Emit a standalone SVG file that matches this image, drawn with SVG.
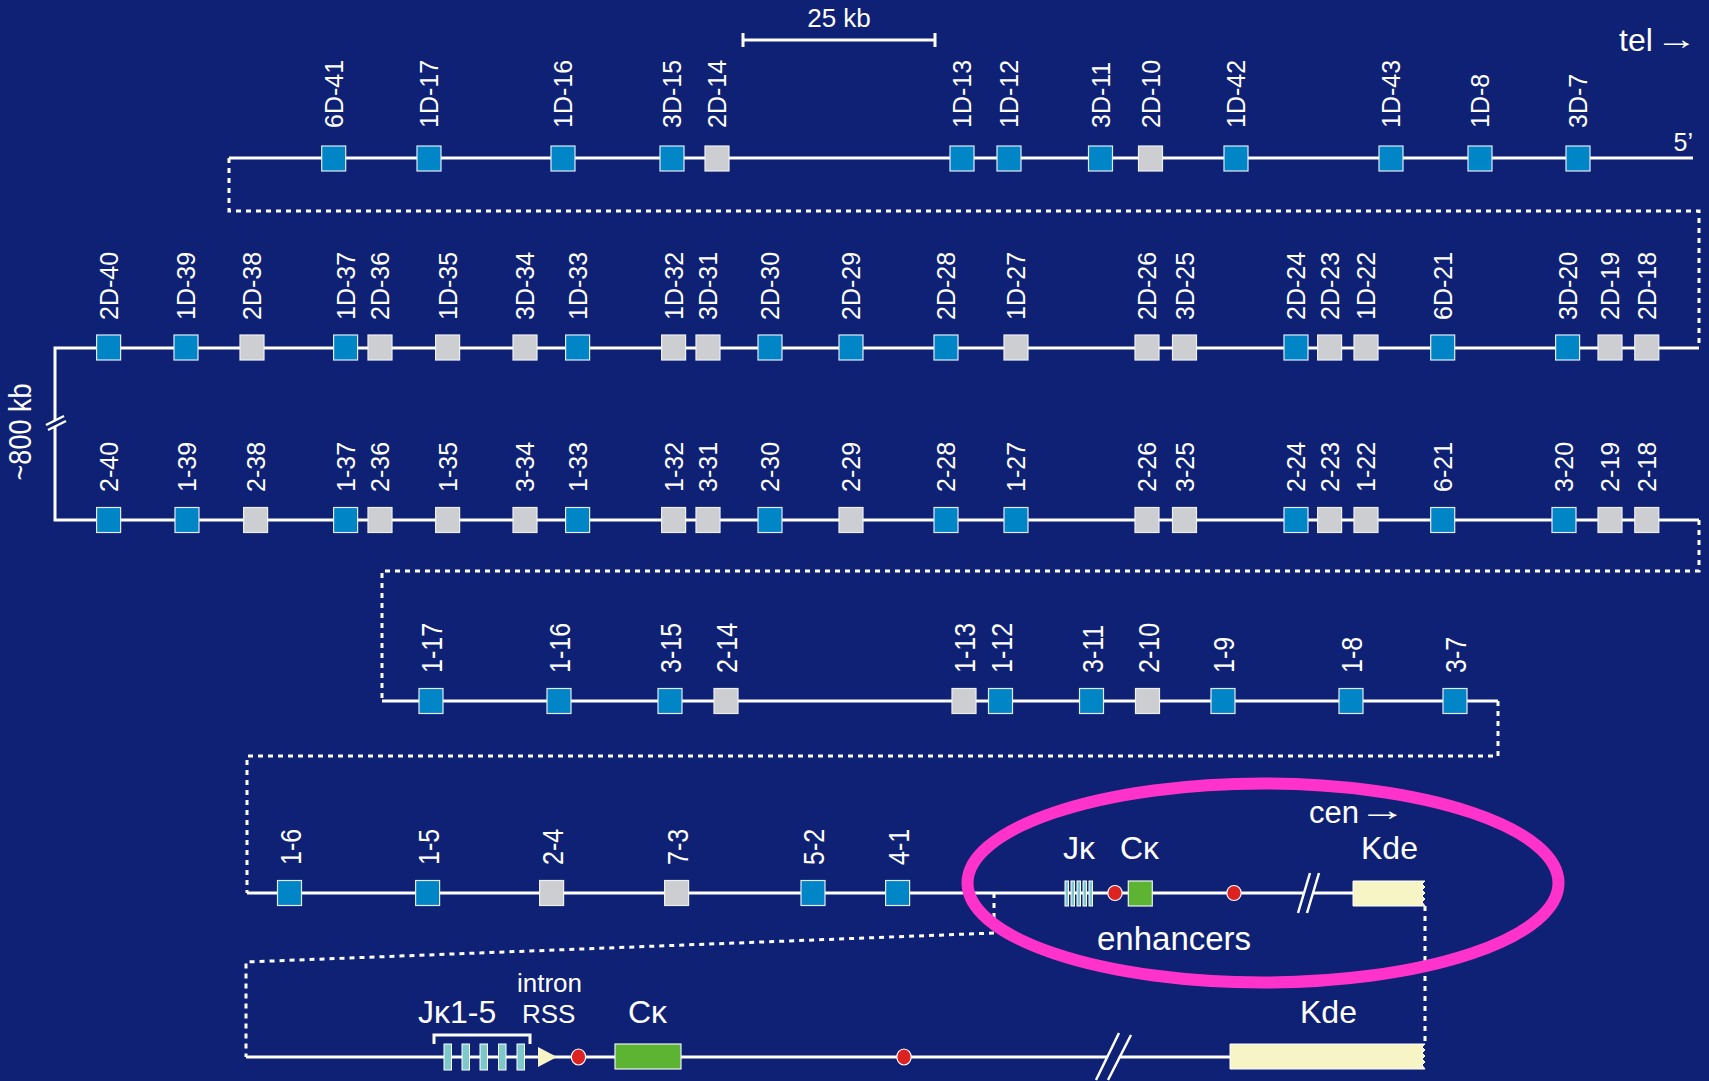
<svg xmlns="http://www.w3.org/2000/svg" width="1709" height="1081" viewBox="0 0 1709 1081">
<style>
.bg{fill:#0E2174}
.b{fill:#0085C7;stroke:#e3eaf3;stroke-width:1.2}
.g{fill:#CDCED2;stroke:#eef0f3;stroke-width:1.2}
.ln{stroke:#fff;stroke-width:3;fill:none}
.dl{stroke:#fff;stroke-width:3;fill:none;stroke-dasharray:5 5}
.brk{stroke:#fff;stroke-width:2.5;fill:none}
.t{font-family:"Liberation Sans",Arial,sans-serif;fill:#fff}
.lb{font-size:25px}
.big{font-size:32px}
.red{fill:#DD2222;stroke:#fff;stroke-width:1.2}
.grn{fill:#5DB332;stroke:#eef0f3;stroke-width:1.2}
.kde{fill:#F7F4C6;stroke:#fff;stroke-width:1}
.jb{fill:#7CC8CA;stroke:#fff;stroke-width:1}
</style>
<rect class="bg" x="0" y="0" width="1709" height="1081"/>

<g id="connectors">
  <path class="ln" d="M229 158 H1693"/>
  <path class="dl" d="M229 158 V211 H1699 V348"/>
  <path class="ln" d="M1699 348 H55 V520 H1699"/>
  <path class="dl" d="M1699 520 V571 H382 V701"/>
  <path class="ln" d="M382 701 H1498"/>
  <path class="dl" d="M1498 701 V756 H247 V893"/>
  <path class="ln" d="M247 893 H1353"/>
  <path class="dl" d="M994 893 V933 L246 962 V1057"/>
  <path class="dl" d="M1425 906 V1044"/>
  <path class="ln" d="M246 1057 H1230"/>
  <polygon class="bg" points="46,426 64,417 66,421 48,430"/>
  <path class="brk" d="M46 425 L64 416 M48 430 L66 421"/>
  <polygon class="bg" points="1309,874 1318,874 1307,912 1298,912"/>
  <path class="brk" d="M1310 873 L1298 913 M1319 873 L1307 913"/>
  <polygon class="bg" points="1119,1034 1130,1034 1107,1080 1096,1080"/>
  <path class="brk" d="M1119 1033 L1096 1080 M1131 1035 L1108 1080"/>
</g>

<g id="scale-bar">
  <path class="ln" d="M743 40 H935 M743 33 V47 M935 33 V47" stroke-width="2.5"/>
  <text class="t" x="839" y="27" font-size="26" text-anchor="middle">25 kb</text>
</g>
<g id="tel">
  <text class="t" x="1619" y="51" font-size="32">tel</text>
  <text class="t" font-size="30" transform="translate(1655.5,49) scale(1.4,1)">→</text>
</g>
<text id="five-prime" class="t" x="1693" y="151" font-size="25" text-anchor="end">5’</text>
<text id="kb800" class="t" font-size="27" text-anchor="middle" transform="translate(31,432) rotate(-90) scale(1,1.15)">~800 kb</text>

<!-- Row 1 -->
<g id="r1-6D-41"><rect class="b" x="321.7" y="146" width="24" height="25"/><text class="t lb" transform="translate(342.7,128) rotate(-90)">6D-41</text></g>
<g id="r1-1D-17"><rect class="b" x="417" y="146" width="24" height="25"/><text class="t lb" transform="translate(438,128) rotate(-90)">1D-17</text></g>
<g id="r1-1D-16"><rect class="b" x="551" y="146" width="24" height="25"/><text class="t lb" transform="translate(572,128) rotate(-90)">1D-16</text></g>
<g id="r1-3D-15"><rect class="b" x="660" y="146" width="24" height="25"/><text class="t lb" transform="translate(681,128) rotate(-90)">3D-15</text></g>
<g id="r1-2D-14"><rect class="g" x="705" y="146" width="24" height="25"/><text class="t lb" transform="translate(726,128) rotate(-90)">2D-14</text></g>
<g id="r1-1D-13"><rect class="b" x="950" y="146" width="24" height="25"/><text class="t lb" transform="translate(971,128) rotate(-90)">1D-13</text></g>
<g id="r1-1D-12"><rect class="b" x="997" y="146" width="24" height="25"/><text class="t lb" transform="translate(1018,128) rotate(-90)">1D-12</text></g>
<g id="r1-3D-11"><rect class="b" x="1088.5" y="146" width="24" height="25"/><text class="t lb" transform="translate(1109.5,128) rotate(-90)">3D-11</text></g>
<g id="r1-2D-10"><rect class="g" x="1138.5" y="146" width="24" height="25"/><text class="t lb" transform="translate(1159.5,128) rotate(-90)">2D-10</text></g>
<g id="r1-1D-42"><rect class="b" x="1224" y="146" width="24" height="25"/><text class="t lb" transform="translate(1245,128) rotate(-90)">1D-42</text></g>
<g id="r1-1D-43"><rect class="b" x="1379" y="146" width="24" height="25"/><text class="t lb" transform="translate(1400,128) rotate(-90)">1D-43</text></g>
<g id="r1-1D-8"><rect class="b" x="1468" y="146" width="24" height="25"/><text class="t lb" transform="translate(1489,128) rotate(-90)">1D-8</text></g>
<g id="r1-3D-7"><rect class="b" x="1566" y="146" width="24" height="25"/><text class="t lb" transform="translate(1587,128) rotate(-90)">3D-7</text></g>

<!-- Row 2 -->
<g id="r2-2D-40"><rect class="b" x="96.6" y="335" width="24" height="25"/><text class="t lb" transform="translate(117.6,320) rotate(-90)">2D-40</text></g>
<g id="r2-1D-39"><rect class="b" x="174" y="335" width="24" height="25"/><text class="t lb" transform="translate(195,320) rotate(-90)">1D-39</text></g>
<g id="r2-2D-38"><rect class="g" x="240" y="335" width="24" height="25"/><text class="t lb" transform="translate(261,320) rotate(-90)">2D-38</text></g>
<g id="r2-1D-37"><rect class="b" x="333.6" y="335" width="24" height="25"/><text class="t lb" transform="translate(354.6,320) rotate(-90)">1D-37</text></g>
<g id="r2-2D-36"><rect class="g" x="368" y="335" width="24" height="25"/><text class="t lb" transform="translate(389,320) rotate(-90)">2D-36</text></g>
<g id="r2-1D-35"><rect class="g" x="435.6" y="335" width="24" height="25"/><text class="t lb" transform="translate(456.6,320) rotate(-90)">1D-35</text></g>
<g id="r2-3D-34"><rect class="g" x="513" y="335" width="24" height="25"/><text class="t lb" transform="translate(534,320) rotate(-90)">3D-34</text></g>
<g id="r2-1D-33"><rect class="b" x="565.6" y="335" width="24" height="25"/><text class="t lb" transform="translate(586.6,320) rotate(-90)">1D-33</text></g>
<g id="r2-1D-32"><rect class="g" x="661.6" y="335" width="24" height="25"/><text class="t lb" transform="translate(682.6,320) rotate(-90)">1D-32</text></g>
<g id="r2-3D-31"><rect class="g" x="696" y="335" width="24" height="25"/><text class="t lb" transform="translate(717,320) rotate(-90)">3D-31</text></g>
<g id="r2-2D-30"><rect class="b" x="758" y="335" width="24" height="25"/><text class="t lb" transform="translate(779,320) rotate(-90)">2D-30</text></g>
<g id="r2-2D-29"><rect class="b" x="839" y="335" width="24" height="25"/><text class="t lb" transform="translate(860,320) rotate(-90)">2D-29</text></g>
<g id="r2-2D-28"><rect class="b" x="934" y="335" width="24" height="25"/><text class="t lb" transform="translate(955,320) rotate(-90)">2D-28</text></g>
<g id="r2-1D-27"><rect class="g" x="1004" y="335" width="24" height="25"/><text class="t lb" transform="translate(1025,320) rotate(-90)">1D-27</text></g>
<g id="r2-2D-26"><rect class="g" x="1135" y="335" width="24" height="25"/><text class="t lb" transform="translate(1156,320) rotate(-90)">2D-26</text></g>
<g id="r2-3D-25"><rect class="g" x="1172.5" y="335" width="24" height="25"/><text class="t lb" transform="translate(1193.5,320) rotate(-90)">3D-25</text></g>
<g id="r2-2D-24"><rect class="b" x="1284" y="335" width="24" height="25"/><text class="t lb" transform="translate(1305,320) rotate(-90)">2D-24</text></g>
<g id="r2-2D-23"><rect class="g" x="1317.6" y="335" width="24" height="25"/><text class="t lb" transform="translate(1338.6,320) rotate(-90)">2D-23</text></g>
<g id="r2-1D-22"><rect class="g" x="1354" y="335" width="24" height="25"/><text class="t lb" transform="translate(1375,320) rotate(-90)">1D-22</text></g>
<g id="r2-6D-21"><rect class="b" x="1430.7" y="335" width="24" height="25"/><text class="t lb" transform="translate(1451.7,320) rotate(-90)">6D-21</text></g>
<g id="r2-3D-20"><rect class="b" x="1555.6" y="335" width="24" height="25"/><text class="t lb" transform="translate(1576.6,320) rotate(-90)">3D-20</text></g>
<g id="r2-2D-19"><rect class="g" x="1598" y="335" width="24" height="25"/><text class="t lb" transform="translate(1619,320) rotate(-90)">2D-19</text></g>
<g id="r2-2D-18"><rect class="g" x="1634.8" y="335" width="24" height="25"/><text class="t lb" transform="translate(1655.8,320) rotate(-90)">2D-18</text></g>

<!-- Row 3 -->
<g id="r3-2-40"><rect class="b" x="96.6" y="507.5" width="24" height="25"/><text class="t lb" transform="translate(117.6,492) rotate(-90)">2-40</text></g>
<g id="r3-1-39"><rect class="b" x="175" y="507.5" width="24" height="25"/><text class="t lb" transform="translate(196,492) rotate(-90)">1-39</text></g>
<g id="r3-2-38"><rect class="g" x="243.6" y="507.5" width="24" height="25"/><text class="t lb" transform="translate(264.6,492) rotate(-90)">2-38</text></g>
<g id="r3-1-37"><rect class="b" x="333.6" y="507.5" width="24" height="25"/><text class="t lb" transform="translate(354.6,492) rotate(-90)">1-37</text></g>
<g id="r3-2-36"><rect class="g" x="368" y="507.5" width="24" height="25"/><text class="t lb" transform="translate(389,492) rotate(-90)">2-36</text></g>
<g id="r3-1-35"><rect class="g" x="435.6" y="507.5" width="24" height="25"/><text class="t lb" transform="translate(456.6,492) rotate(-90)">1-35</text></g>
<g id="r3-3-34"><rect class="g" x="513" y="507.5" width="24" height="25"/><text class="t lb" transform="translate(534,492) rotate(-90)">3-34</text></g>
<g id="r3-1-33"><rect class="b" x="565.6" y="507.5" width="24" height="25"/><text class="t lb" transform="translate(586.6,492) rotate(-90)">1-33</text></g>
<g id="r3-1-32"><rect class="g" x="661.6" y="507.5" width="24" height="25"/><text class="t lb" transform="translate(682.6,492) rotate(-90)">1-32</text></g>
<g id="r3-3-31"><rect class="g" x="696" y="507.5" width="24" height="25"/><text class="t lb" transform="translate(717,492) rotate(-90)">3-31</text></g>
<g id="r3-2-30"><rect class="b" x="758" y="507.5" width="24" height="25"/><text class="t lb" transform="translate(779,492) rotate(-90)">2-30</text></g>
<g id="r3-2-29"><rect class="g" x="839" y="507.5" width="24" height="25"/><text class="t lb" transform="translate(860,492) rotate(-90)">2-29</text></g>
<g id="r3-2-28"><rect class="b" x="934" y="507.5" width="24" height="25"/><text class="t lb" transform="translate(955,492) rotate(-90)">2-28</text></g>
<g id="r3-1-27"><rect class="b" x="1004" y="507.5" width="24" height="25"/><text class="t lb" transform="translate(1025,492) rotate(-90)">1-27</text></g>
<g id="r3-2-26"><rect class="g" x="1135" y="507.5" width="24" height="25"/><text class="t lb" transform="translate(1156,492) rotate(-90)">2-26</text></g>
<g id="r3-3-25"><rect class="g" x="1172.5" y="507.5" width="24" height="25"/><text class="t lb" transform="translate(1193.5,492) rotate(-90)">3-25</text></g>
<g id="r3-2-24"><rect class="b" x="1284" y="507.5" width="24" height="25"/><text class="t lb" transform="translate(1305,492) rotate(-90)">2-24</text></g>
<g id="r3-2-23"><rect class="g" x="1317.6" y="507.5" width="24" height="25"/><text class="t lb" transform="translate(1338.6,492) rotate(-90)">2-23</text></g>
<g id="r3-1-22"><rect class="g" x="1354" y="507.5" width="24" height="25"/><text class="t lb" transform="translate(1375,492) rotate(-90)">1-22</text></g>
<g id="r3-6-21"><rect class="b" x="1430.7" y="507.5" width="24" height="25"/><text class="t lb" transform="translate(1451.7,492) rotate(-90)">6-21</text></g>
<g id="r3-3-20"><rect class="b" x="1552" y="507.5" width="24" height="25"/><text class="t lb" transform="translate(1573,492) rotate(-90)">3-20</text></g>
<g id="r3-2-19"><rect class="g" x="1598" y="507.5" width="24" height="25"/><text class="t lb" transform="translate(1619,492) rotate(-90)">2-19</text></g>
<g id="r3-2-18"><rect class="g" x="1634.8" y="507.5" width="24" height="25"/><text class="t lb" transform="translate(1655.8,492) rotate(-90)">2-18</text></g>

<!-- Row 4 -->
<g id="r4-1-17"><rect class="b" x="419" y="688.5" width="24" height="25"/><text class="t lb" transform="translate(442,673) rotate(-90) scale(1,1.2)">1-17</text></g>
<g id="r4-1-16"><rect class="b" x="547" y="688.5" width="24" height="25"/><text class="t lb" transform="translate(570,673) rotate(-90) scale(1,1.2)">1-16</text></g>
<g id="r4-3-15"><rect class="b" x="658" y="688.5" width="24" height="25"/><text class="t lb" transform="translate(681,673) rotate(-90) scale(1,1.2)">3-15</text></g>
<g id="r4-2-14"><rect class="g" x="714" y="688.5" width="24" height="25"/><text class="t lb" transform="translate(737,673) rotate(-90) scale(1,1.2)">2-14</text></g>
<g id="r4-1-13"><rect class="g" x="952" y="688.5" width="24" height="25"/><text class="t lb" transform="translate(975,673) rotate(-90) scale(1,1.2)">1-13</text></g>
<g id="r4-1-12"><rect class="b" x="988.5" y="688.5" width="24" height="25"/><text class="t lb" transform="translate(1011.5,673) rotate(-90) scale(1,1.2)">1-12</text></g>
<g id="r4-3-11"><rect class="b" x="1079.5" y="688.5" width="24" height="25"/><text class="t lb" transform="translate(1102.5,673) rotate(-90) scale(1,1.2)">3-11</text></g>
<g id="r4-2-10"><rect class="g" x="1135.5" y="688.5" width="24" height="25"/><text class="t lb" transform="translate(1158.5,673) rotate(-90) scale(1,1.2)">2-10</text></g>
<g id="r4-1-9"><rect class="b" x="1211" y="688.5" width="24" height="25"/><text class="t lb" transform="translate(1234,673) rotate(-90) scale(1,1.2)">1-9</text></g>
<g id="r4-1-8"><rect class="b" x="1339" y="688.5" width="24" height="25"/><text class="t lb" transform="translate(1362,673) rotate(-90) scale(1,1.2)">1-8</text></g>
<g id="r4-3-7"><rect class="b" x="1443" y="688.5" width="24" height="25"/><text class="t lb" transform="translate(1466,673) rotate(-90) scale(1,1.2)">3-7</text></g>

<!-- Row 5 -->
<g id="r5-1-6"><rect class="b" x="277.5" y="880.5" width="24" height="25"/><text class="t lb" transform="translate(300.5,865) rotate(-90) scale(1,1.2)">1-6</text></g>
<g id="r5-1-5"><rect class="b" x="415.6" y="880.5" width="24" height="25"/><text class="t lb" transform="translate(438.6,865) rotate(-90) scale(1,1.2)">1-5</text></g>
<g id="r5-2-4"><rect class="g" x="539.6" y="880.5" width="24" height="25"/><text class="t lb" transform="translate(562.6,865) rotate(-90) scale(1,1.2)">2-4</text></g>
<g id="r5-7-3"><rect class="g" x="664.6" y="880.5" width="24" height="25"/><text class="t lb" transform="translate(687.6,865) rotate(-90) scale(1,1.2)">7-3</text></g>
<g id="r5-5-2"><rect class="b" x="801" y="880.5" width="24" height="25"/><text class="t lb" transform="translate(824,865) rotate(-90) scale(1,1.2)">5-2</text></g>
<g id="r5-4-1"><rect class="b" x="885.6" y="880.5" width="24" height="25"/><text class="t lb" transform="translate(908.6,865) rotate(-90) scale(1,1.2)">4-1</text></g>

<g id="r5-J">
  <rect class="jb" x="1065" y="881" width="3.5" height="25"/>
  <rect class="jb" x="1071" y="881" width="3.5" height="25"/>
  <rect class="jb" x="1077" y="881" width="3.5" height="25"/>
  <rect class="jb" x="1083" y="881" width="3.5" height="25"/>
  <rect class="jb" x="1089" y="881" width="3.5" height="25"/>
  <text class="t big" x="1063" y="859">Jκ</text>
</g>
<g id="r5-enh1"><ellipse class="red" cx="1115" cy="893" rx="7.2" ry="7.5"/></g>
<g id="r5-C"><rect class="grn" x="1128.3" y="881" width="24" height="25"/><text class="t big" x="1120" y="859">Cκ</text></g>
<g id="r5-enh2"><ellipse class="red" cx="1234" cy="893" rx="7.2" ry="7.5"/></g>
<g id="r5-Kde"><path class="kde" d="M1353 881 H1425 l-3 3 l3 3 l-3 3 l3 3 l-3 3 l3 3 l-3 3 l3 4 V906 H1353 Z"/><text class="t big" x="1361" y="859">Kde</text></g>
<g id="cen">
  <text class="t" x="1309" y="823" font-size="31">cen</text>
  <text class="t" font-size="30" transform="translate(1358.5,820) scale(1.6,1)">→</text>
</g>
<text id="enhancers" class="t" x="1097" y="950" font-size="33">enhancers</text>

<!-- Row 6 -->
<g id="r6-J">
  <path class="ln" stroke-width="2.2" d="M434 1044 V1035 H530 V1044"/>
  <rect class="jb" x="444" y="1044" width="7.5" height="26"/>
  <rect class="jb" x="462" y="1044" width="7.5" height="26"/>
  <rect class="jb" x="480" y="1044" width="7.5" height="26"/>
  <rect class="jb" x="498.5" y="1044" width="7.5" height="26"/>
  <rect class="jb" x="517" y="1044" width="7.5" height="26"/>
  <text class="t big" x="418" y="1023">Jκ1-5</text>
</g>
<g id="r6-RSS">
  <polygon points="538,1047 557,1057 538,1067" fill="#F7F4C6"/>
  <text class="t" x="517" y="992" font-size="26">intron</text>
  <text class="t" x="522" y="1023" font-size="26">RSS</text>
</g>
<g id="r6-enh1"><ellipse class="red" cx="578.5" cy="1057" rx="7.2" ry="8"/></g>
<g id="r6-C"><rect class="grn" x="615" y="1044" width="66" height="25"/><text class="t big" x="628" y="1023">Cκ</text></g>
<g id="r6-enh2"><ellipse class="red" cx="904" cy="1057" rx="7.2" ry="8"/></g>
<g id="r6-Kde"><path class="kde" d="M1230 1044 H1425 l-3 3 l3 3 l-3 3 l3 3 l-3 3 l3 3 l-3 3 l3 4 V1069 H1230 Z"/><text class="t big" x="1300" y="1023">Kde</text></g>

<g id="highlight">
  <ellipse cx="1263" cy="883" rx="295.5" ry="99.5" fill="none" stroke="#FF33CC" stroke-width="12"/>
</g>
</svg>
